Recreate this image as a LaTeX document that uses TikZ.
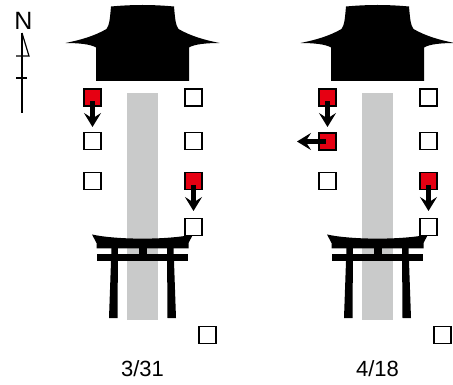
\documentclass[tikz,border=0pt]{standalone}
\usepackage{fontspec}
\setmainfont{Liberation Sans}
\usetikzlibrary{arrows.meta}

\definecolor{shrinered}{RGB}{230,0,18}
\definecolor{approach}{RGB}{201,202,202}

\tikzset{
  spot/.style={draw=black, line width=1.6pt, fill=white, inner sep=0pt,
               minimum size=17.2pt, outer sep=0pt},
  lit/.style={spot, fill=shrinered},
  move/.style={line width=4.6pt, draw=black,
               -{Stealth[length=14pt, width=17pt, inset=5.5pt]}},
  datelabel/.style={font=\fontsize{22}{24}\selectfont, inner sep=0pt},
  % main hall seen in elevation
  hall/.pic={
    \fill[black] (-31.5,6.5) .. controls (-10,4.5) and (10,4.5) .. (31.5,6.5)
      .. controls (32.5,18) and (33,25) .. (36,29)
      .. controls (48,36) and (62,40) .. (77,43)
      .. controls (65,43) and (52,44) .. (46.5,47.5)
      -- (46.5,81) -- (-46.5,81) -- (-46.5,47.5)
      .. controls (-52,44) and (-65,43) .. (-77,43)
      .. controls (-62,40) and (-48,36) .. (-36,29)
      .. controls (-33,25) and (-32.5,18) .. (-31.5,6.5) -- cycle;
  },
  % paved approach
  path/.pic={
    \fill[approach] (-15.5,93) rectangle (15.5,320);
  },
  % torii gate
  gate/.pic={
    \fill[black] (-50.5,234.5) .. controls (-25,240) and (25,240) .. (50.5,234.5)
      -- (46,243) -- (46,248.5) -- (-46,248.5) -- (-46,243) -- cycle;
    \fill[black] (-4,247) rectangle (4,255);
    \fill[black] (-45.5,254) rectangle (45.5,261);
    \fill[black] (-31,247) -- (-24.5,247) -- (-25,318) -- (-33.5,318) -- cycle;
    \fill[black] (31,247) -- (24.5,247) -- (25,318) -- (33.5,318) -- cycle;
  },
}

\begin{document}
\begin{tikzpicture}[x=1pt, y=-1pt]
\useasboundingbox (0,0) rectangle (453,385);

% north marker
\draw[line width=1.4pt] (22,33) -- (22,113);
\draw[line width=1.2pt, line join=miter] (22,33) -- (29,56) -- (16,56);
\draw[line width=1.2pt] (16,78) -- (27,78);
\node[font=\fontsize{25}{27}\selectfont, inner sep=0pt] (north) at (23.5,20.5) {N};

% ---------- 3/31 ----------
\pic at (142.5,0) {path};
\pic at (142.5,0) {hall};
\pic at (142.5,0) {gate};

\node[lit]  (a11) at (92.5,97.5) {};
\node[spot] (a12) at (92.5,141) {};
\node[spot] (a13) at (92.5,181) {};
\node[spot] (a21) at (193.5,97.5) {};
\node[spot] (a22) at (193.5,141) {};
\node[lit]  (a23) at (193.5,181) {};
\node[spot] (a24) at (193.5,227) {};
\node[spot] (a30) at (207.5,335) {};

\coordinate (a11to) at (92.5,127);
\coordinate (a23to) at (193.5,211);
\draw[move] ([yshift=-4pt]a11.center) -- (a11to);
\draw[move] ([yshift=-4pt]a23.center) -- (a23to);

\node[datelabel] (date1) at (142.5,368.5) {3/31};

% ---------- 4/18 ----------
\pic at (377.5,0) {path};
\pic at (377.5,0) {hall};
\pic at (377.5,0) {gate};

\node[lit]  (b11) at (327.5,97.5) {};
\node[lit]  (b12) at (327.5,141.5) {};
\node[spot] (b13) at (327.5,181) {};
\node[spot] (b21) at (428.5,97.5) {};
\node[spot] (b22) at (428.5,141) {};
\node[lit]  (b23) at (428.5,181) {};
\node[spot] (b24) at (428.5,227) {};
\node[spot] (b30) at (442.5,335) {};

\coordinate (b11to) at (327.5,127);
\coordinate (b12to) at (297,141.5);
\coordinate (b23to) at (428.5,211);
\draw[move] ([yshift=-4pt]b11.center) -- (b11to);
\draw[move] ([xshift=-2pt]b12.center) -- (b12to);
\draw[move] ([yshift=-4pt]b23.center) -- (b23to);

\node[datelabel] (date2) at (377.5,368.5) {4/18};
\end{tikzpicture}
\end{document}
